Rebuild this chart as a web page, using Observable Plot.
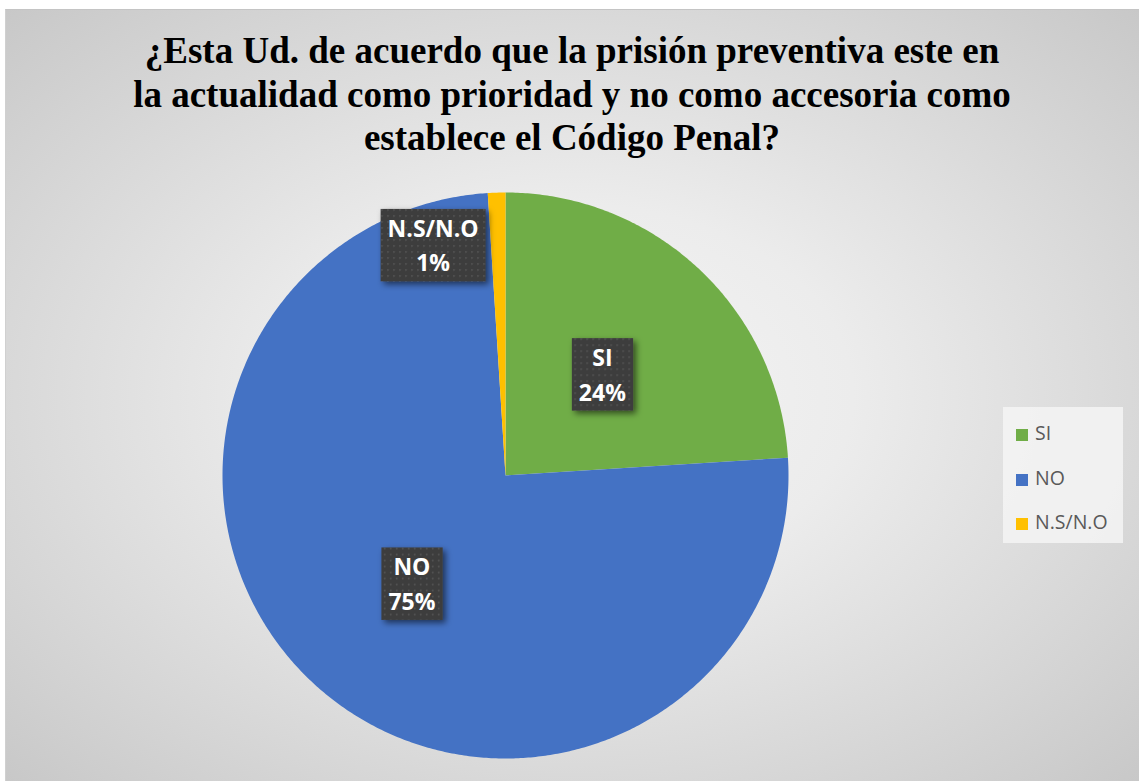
<!DOCTYPE html>
<html>
<head>
<meta charset="utf-8">
<script src="https://cdn.jsdelivr.net/npm/d3@7"></script>
<script src="https://cdn.jsdelivr.net/npm/@observablehq/plot@0.6"></script>
<style>
  html, body { margin: 0; padding: 0; background: #ffffff; }
  #wrap { position: relative; width: 1139px; height: 781px; overflow: hidden; background: #ffffff; }
  #area { position: absolute; left: 5px; top: 9px; width: 1134px; height: 772px;
    background: radial-gradient(ellipse at 50% 50%, #f5f5f5 0%, #ececec 35%, #d6d6d6 75%, #c8c8c8 100%);
    border-top: 1px solid #c4c4c4; border-left: 1px solid #d0d0d0; box-sizing: border-box; }
  #title { position: absolute; left: 5px; width: 1134px; top: 29px; text-align: center;
    font-family: "Liberation Serif", "Times New Roman", serif; font-weight: bold; font-size: 37px;
    line-height: 43.5px; color: #000; }
  #chart { position: absolute; left: 0; top: 0; }
  #legend { position: absolute; left: 1003px; top: 407px; width: 120px; height: 136px;
    background: rgba(245,245,245,0.85); font-family: "Open Sans", sans-serif; font-size: 19.5px; color: #595959; }
  .li { position: absolute; left: 13px; height: 24px; line-height: 24px; white-space: nowrap; }
  .sw { display: inline-block; width: 12px; height: 12px; margin-right: 7px; vertical-align: -1px; }
</style>
</head>
<body>
<div id="wrap">
  <div id="area"></div>
  <div id="chart"></div>
  <div id="title">¿Esta Ud. de acuerdo que la prisión preventiva este en<br>la actualidad como prioridad y no como accesoria como<br>establece el Código Penal?</div>
  <div id="legend"></div>
</div>
<script>
// ---- data ----
const categories = ["SI", "NO", "N.S/N.O"];
const values = [24, 75, 1];
const percentLabels = ["24%", "75%", "1%"];
const colors = ["#70AD47", "#4472C4", "#FFC000"];

// ---- build wedges (clockwise from 12 o'clock) in unit coordinates ----
const total = d3.sum(values);
let acc = 0;
const slices = categories.map((cat, i) => {
  const a0 = acc / total * 2 * Math.PI;
  acc += values[i];
  const a1 = acc / total * 2 * Math.PI;
  const pts = [[0, 0]];
  const n = Math.max(2, Math.ceil((a1 - a0) / (Math.PI / 360)));
  for (let k = 0; k <= n; k++) {
    const a = a0 + (a1 - a0) * k / n;
    pts.push([Math.sin(a), Math.cos(a)]);
  }
  pts.push([0, 0]);
  const mid = (a0 + a1) / 2;
  const small = values[i] / total < 0.05;
  const lr = small ? 0.86 : 0.5;
  const la = small ? mid - 15.5 * Math.PI / 180 : mid;
  return {
    cat, value: values[i], label: cat + "\n" + percentLabels[i],
    geom: {type: "Polygon", coordinates: [pts.reverse()]},
    lx: lr * Math.sin(la), ly: lr * Math.cos(la)
  };
});

const domain = {type: "Polygon", coordinates: [[[-1, -1], [1, -1], [1, 1], [-1, 1], [-1, -1]]]};

const W = 1139, H = 781;
const plot = Plot.plot({
  width: W, height: H,
  marginLeft: 222, marginRight: W - 788, marginTop: 192, marginBottom: H - 758,
  projection: {type: "reflect-y", domain},
  color: {domain: categories, range: colors},
  style: {background: "transparent", overflow: "visible"},
  marks: [
    Plot.geo(slices, {geometry: d => d.geom, fill: d => d.cat, stroke: "none"}),
    Plot.text(slices, {x: "lx", y: "ly", text: "label", fill: "white",
      fontFamily: "Open Sans, sans-serif", fontWeight: "bold", fontSize: 23, lineHeight: 1.5})
  ]
});
document.getElementById("chart").appendChild(plot);

// ---- label boxes with dotted pattern and shadow ----
const svg = d3.select(plot);
const defs = svg.insert("defs", ":first-child");
const pat = defs.append("pattern").attr("id", "dots").attr("patternUnits", "userSpaceOnUse")
  .attr("width", 6).attr("height", 6);
pat.append("rect").attr("width", 6).attr("height", 6).attr("fill", "#3d3d3d");
pat.append("rect").attr("x", 2).attr("y", 2).attr("width", 1.6).attr("height", 1.6).attr("fill", "#555555");
const f = defs.append("filter").attr("id", "shadow").attr("x", "-20%").attr("y", "-20%").attr("width", "150%").attr("height", "150%");
f.append("feDropShadow").attr("dx", 3).attr("dy", 3).attr("stdDeviation", 3)
  .attr("flood-color", "#000").attr("flood-opacity", 0.55);

svg.selectAll("text").each(function() {
  const t = this;
  if (!t.textContent) return;
  const bb = t.getBBox();
  const padX = 7, padY = 3;
  const rect = document.createElementNS("http://www.w3.org/2000/svg", "rect");
  rect.setAttribute("x", bb.x - padX);
  rect.setAttribute("y", bb.y - padY);
  rect.setAttribute("width", bb.width + 2 * padX);
  rect.setAttribute("height", bb.height + 2 * padY);
  rect.setAttribute("fill", "url(#dots)");
  rect.setAttribute("filter", "url(#shadow)");
  const tr = t.getAttribute("transform");
  if (tr) rect.setAttribute("transform", tr);
  t.parentNode.insertBefore(rect, t);
});

// ---- legend ----
const legend = d3.select("#legend");
const legendY = [14, 59, 103];
categories.forEach((c, i) => {
  const item = legend.append("div").attr("class", "li").style("top", legendY[i] + "px");
  item.append("span").attr("class", "sw").style("background", colors[i]);
  item.append("span").text(c);
});
</script>
</body>
</html>
